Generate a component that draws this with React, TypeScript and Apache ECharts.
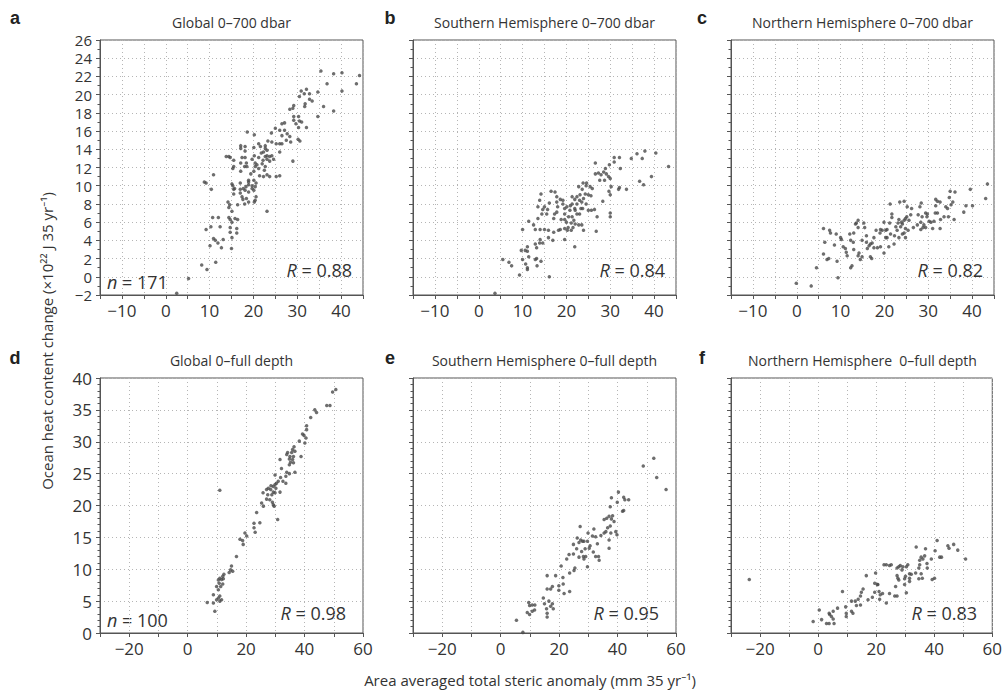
import React, { useEffect, useRef } from "react";
import * as echarts from "echarts";

// ---------- data (x: steric anomaly mm 35 yr^-1, y: OHC change 10^22 J 35 yr^-1) ----------
const globalUpper: number[][] = [
  [35.4,22.6],[38.3,22.3],[40.2,22.4],[44.2,22.1],[36.8,21.2],[43.5,21.2],[40.2,20.4],[30.9,20.4],[32.1,20.6],[31.6,20.1],
  [34.7,20.3],[30.5,19.8],[32.8,20.1],[32.8,19.5],[33.4,19.3],[31.8,19.0],[31.7,18.7],[36.0,18.7],[38.3,18.2],[29.2,18.8],
  [29.0,18.5],[28.3,18.4],[34.7,17.6],[29.2,17.6],[30.3,17.6],[29.2,17.2],[30.5,17.1],[31.0,17.0],[29.7,16.8],[27.1,16.9],
  [26.5,16.8],[32.1,16.4],[30.3,16.4],[25.0,16.3],[26.0,16.1],[27.1,16.1],[24.1,15.8],[27.7,15.7],[26.5,15.5],[28.3,15.4],
  [27.5,15.0],[28.5,14.8],[30.2,15.1],[30.6,14.9],[25.2,14.6],[26.0,14.6],[26.5,14.6],[24.2,14.8],[23.3,14.9],[22.7,14.4],
  [21.2,14.6],[21.6,14.3],[22.7,14.1],[23.1,13.9],[22.3,13.7],[21.8,13.6],[26.0,13.7],[23.1,13.3],[23.7,13.2],[24.2,13.3],
  [22.7,13.2],[21.2,13.1],[20.2,13.3],[19.7,12.9],[22.2,12.8],[23.1,12.9],[22.0,12.4],[23.7,12.7],[24.6,12.9],[29.0,12.7],
  [20.8,12.3],[20.4,12.1],[18.5,12.1],[18.0,12.1],[21.2,11.9],[22.7,12.1],[22.5,11.7],[20.1,11.6],[19.4,11.3],[21.4,11.1],
  [22.3,11.0],[23.1,11.2],[23.7,11.0],[25.2,11.0],[26.0,11.1],[18.9,10.6],[20.1,10.6],[20.6,10.3],[18.9,10.4],[18.9,10.1],
  [19.7,10.0],[20.4,9.9],[18.3,9.9],[15.1,10.2],[15.3,10.0],[19.7,9.7],[20.1,9.5],[18.9,9.3],[17.7,9.7],[18.1,9.5],
  [17.0,9.6],[15.5,9.6],[17.0,9.2],[15.5,9.1],[20.6,8.8],[18.4,8.6],[17.6,8.5],[18.0,8.0],[20.4,8.4],[18.9,8.2],
  [20.2,8.2],[16.4,7.9],[17.4,8.8],[14.2,8.2],[14.6,7.9],[14.4,7.6],[15.1,7.2],[23.1,7.2],[15.8,6.4],[16.4,6.3],
  [14.4,6.5],[14.7,6.3],[10.7,6.5],[12.0,6.5],[15.1,6.0],[14.7,5.4],[12.4,5.5],[10.3,5.5],[9.2,5.2],[16.2,5.3],
  [16.2,4.8],[14.7,4.9],[15.1,4.3],[10.9,4.2],[11.3,4.0],[13.1,4.1],[11.9,3.7],[12.7,3.2],[10.1,3.4],[15.0,3.1],
  [11.4,1.6],[8.2,1.3],[9.4,0.8],[5.2,-0.2],[2.5,-1.8],[8.8,10.4],[9.2,10.3],[10.4,9.6],[10.9,11.2],[13.8,13.2],
  [14.4,13.2],[14.7,13.1],[15.5,12.8],[15.5,12.1],[15.3,11.9],[17.1,14.4],[17.1,14.1],[18.1,14.3],[18.1,13.8],[18.6,15.9],
  [20.2,15.6],[17.4,13.1],[18.1,13.1],[17.1,11.6],[17.1,12.5],[18.4,12.5],[20.1,14.2],[15.7,9.7],[20.4,12.5],[17.0,10.3]
];

const southUpper: number[][] = [
  [40.4,13.6],[43.3,12.1],[37.9,13.8],[36.1,13.5],[37.3,13.0],[34.8,13.0],[32.1,13.1],[30.9,13.1],[30.9,12.6],[32.3,11.9],
  [29.8,12.3],[28.9,11.9],[26.6,12.5],[26.6,11.3],[27.3,11.4],[27.9,11.2],[28.5,11.5],[29.1,11.3],[29.6,11.0],[30.0,10.8],
  [27.6,10.6],[28.7,10.6],[39.4,11.0],[36.7,10.5],[37.6,10.1],[32.1,9.8],[31.9,9.6],[30.2,9.9],[33.7,9.6],[29.7,9.4],
  [30.0,9.0],[28.3,8.3],[25.4,9.9],[23.8,10.3],[24.5,10.0],[22.8,9.9],[23.6,9.6],[22.4,8.8],[24.3,9.1],[23.1,9.0],
  [23.9,8.6],[25.0,9.0],[25.6,8.9],[21.3,8.8],[21.9,8.5],[21.3,8.0],[22.4,8.0],[23.0,8.4],[23.5,8.2],[24.5,8.0],
  [23.7,7.5],[23.0,6.9],[22.4,6.9],[21.9,7.5],[20.8,7.3],[19.6,7.5],[19.6,6.9],[20.5,6.6],[21.3,6.6],[22.0,5.8],
  [22.8,5.7],[23.5,5.7],[23.9,5.1],[26.4,7.4],[27.0,6.6],[26.8,5.0],[30.0,7.0],[30.0,6.6],[19.2,8.4],[19.2,8.0],
  [18.6,8.5],[17.8,8.8],[17.4,9.3],[16.5,9.4],[18.0,7.7],[17.8,7.1],[17.1,6.4],[17.3,6.9],[20.0,6.0],[20.4,5.4],
  [19.6,5.3],[20.2,5.1],[18.6,5.2],[18.2,5.1],[17.1,4.9],[19.6,4.1],[16.1,8.1],[15.7,7.4],[15.0,7.7],[14.6,7.4],
  [15.5,6.9],[14.4,6.9],[13.9,8.4],[13.5,7.7],[14.2,9.1],[13.5,6.4],[12.5,5.7],[11.4,6.1],[12.9,5.2],[14.0,5.2],
  [15.0,5.2],[15.9,5.1],[10.0,5.2],[15.9,4.3],[16.9,4.0],[14.0,4.1],[14.6,3.7],[13.9,3.7],[12.9,3.6],[13.2,3.2],
  [11.1,3.3],[10.6,2.9],[9.7,2.9],[11.1,2.8],[11.4,2.2],[10.0,1.9],[10.7,1.4],[11.1,1.0],[11.1,0.8],[13.2,2.0],
  [12.9,1.9],[13.3,1.2],[14.2,1.7],[9.3,0.2],[5.5,1.9],[6.9,1.6],[7.5,1.2],[16.1,0.0],[21.9,3.3],[3.7,-1.8],
  [22.0,7.3],[20.9,7.8],[20.1,7.7],[25.7,7.3],[25.0,7.3],[23.3,7.5],[24.6,10.3],[25.9,9.7],[19.6,6.3],[21.7,6.2],
  [21.1,5.9],[17.8,8.2],[18.8,6.3],[21.1,5.1],[21.5,5.4]
];

const northUpper: number[][] = [
  [43.5,10.2],[43.1,8.6],[39.6,9.6],[40.1,7.8],[38.6,7.8],[38.1,7.1],[35.0,9.4],[36.1,9.3],[34.8,8.7],[35.6,8.2],
  [35.2,7.9],[34.0,7.7],[34.4,7.5],[31.7,8.5],[32.1,8.3],[32.7,8.2],[31.7,7.8],[31.6,7.0],[32.1,7.0],[28.4,8.1],
  [28.1,7.7],[29.4,7.0],[29.8,6.9],[27.7,6.8],[28.6,6.6],[29.7,6.6],[30.2,6.1],[33.6,6.6],[34.6,6.6],[35.9,6.3],
  [32.8,6.3],[31.3,6.1],[30.6,6.0],[28.3,6.0],[27.5,5.7],[29.0,5.7],[29.4,5.4],[31.0,5.3],[32.7,5.3],[26.6,5.4],
  [25.6,6.2],[26.0,6.8],[26.2,7.5],[25.1,6.6],[24.5,8.3],[23.5,8.2],[25.2,7.7],[24.8,6.4],[24.5,6.2],[23.9,6.0],
  [23.3,6.3],[24.1,5.8],[23.7,5.5],[24.8,5.3],[25.4,5.1],[23.1,5.9],[22.6,5.5],[22.9,5.1],[24.1,4.7],[24.5,4.8],
  [24.8,4.3],[23.3,4.3],[22.3,4.5],[21.4,4.7],[22.2,3.6],[21.2,5.9],[21.7,6.5],[21.7,6.9],[21.3,8.0],[19.9,6.0],
  [20.3,5.1],[20.6,5.2],[19.5,5.1],[19.1,5.2],[19.0,4.8],[20.3,4.3],[20.6,4.3],[21.0,3.3],[19.9,2.6],[19.1,3.3],
  [18.4,3.2],[17.6,3.2],[16.8,3.6],[15.9,3.8],[16.5,3.4],[17.2,3.7],[16.1,3.1],[16.8,2.2],[17.1,2.0],[15.9,4.5],
  [15.3,5.9],[15.5,5.4],[14.9,4.0],[14.0,6.2],[13.6,5.9],[14.0,5.4],[13.0,4.8],[13.4,5.8],[12.1,4.7],[12.3,4.0],
  [13.0,3.0],[12.9,3.8],[14.0,2.3],[14.5,1.9],[14.2,2.6],[14.9,2.2],[12.6,1.2],[12.3,1.0],[11.5,2.3],[11.1,3.1],
  [11.3,2.7],[10.6,3.3],[10.0,4.3],[10.2,4.1],[8.6,3.5],[9.0,4.7],[7.5,5.1],[7.7,4.8],[6.1,5.3],[6.4,3.8],
  [7.3,2.0],[6.9,1.9],[6.1,2.5],[9.2,1.7],[9.4,-0.1],[4.5,1.0],[-0.1,-0.7],[3.3,-1.0],[18.1,5.1],[17.6,4.3],
  [28.3,5.2],[28.8,5.4]
];

const globalFull: number[][] = [
  [50.7,38.2],[49.6,37.8],[48.7,35.7],[47.6,35.7],[44.1,34.6],[43.5,35.0],[42.1,33.8],[40.7,32.5],[40.7,31.9],[39.8,31.0],
  [40.5,30.6],[39.3,31.2],[40.1,29.8],[38.2,30.1],[36.4,29.2],[35.9,28.8],[35.6,28.3],[35.0,27.7],[36.2,27.7],[34.8,27.3],
  [35.9,27.2],[35.2,26.8],[36.2,26.7],[34.8,26.4],[36.7,25.2],[38.8,27.7],[31.6,27.2],[32.1,25.8],[33.9,25.2],[34.8,25.0],
  [33.6,24.6],[29.9,24.8],[31.8,24.4],[31.0,23.8],[30.4,23.5],[33.6,23.5],[29.9,23.3],[29.3,23.0],[28.5,23.1],[27.6,22.7],
  [27.0,22.5],[28.4,22.5],[30.2,22.7],[29.3,22.1],[27.4,21.7],[28.8,21.7],[29.9,22.0],[31.6,22.1],[27.0,21.0],[25.3,20.4],
  [25.9,19.9],[29.0,20.5],[29.3,20.1],[29.6,19.9],[23.6,18.9],[30.8,17.8],[22.7,17.2],[24.7,17.3],[22.7,16.5],[23.1,15.8],
  [19.6,15.7],[20.2,15.2],[17.9,14.7],[18.8,14.5],[19.0,13.9],[16.7,12.0],[15.0,10.5],[14.7,9.9],[15.4,9.7],[14.2,9.5],
  [12.4,9.2],[12.0,8.9],[11.0,8.6],[11.6,8.4],[10.5,8.3],[12.2,8.5],[10.8,7.8],[12.0,7.7],[9.9,7.3],[11.3,7.3],
  [10.5,6.8],[8.8,6.0],[11.0,5.8],[10.5,5.5],[11.6,5.2],[9.9,5.2],[6.7,4.8],[8.8,4.7],[11.0,5.0],[9.3,3.4],
  [11.0,22.4],[34.2,28.3],[33.9,28.0],[36.7,28.5],[32.6,23.8],[25.8,22.0],[28.1,20.9]
];

const southFull: number[][] = [
  [52.4,27.4],[48.8,26.2],[53.4,24.4],[56.6,22.5],[40.3,22.1],[37.9,21.2],[42.1,21.3],[42.5,20.9],[43.8,20.9],[39.9,20.5],
  [37.5,19.8],[41.7,19.1],[42.1,19.2],[35.4,17.8],[36.3,18.0],[37.1,18.3],[38.3,18.4],[37.9,17.9],[38.8,17.5],[37.5,16.8],
  [36.6,16.5],[36.0,15.9],[35.4,15.7],[37.7,15.7],[39.4,15.9],[39.8,15.4],[34.3,15.3],[37.1,14.6],[37.1,13.3],[33.1,14.0],
  [31.9,16.3],[31.4,15.2],[32.5,15.1],[29.9,15.7],[29.7,14.4],[30.6,13.7],[30.3,13.3],[27.2,16.7],[26.2,14.9],[27.4,14.6],
  [28.0,14.4],[26.8,14.2],[28.5,14.4],[24.9,13.9],[26.0,13.2],[24.9,12.4],[28.3,12.0],[29.1,12.0],[28.5,11.6],[23.4,12.3],
  [22.6,11.6],[32.5,12.0],[33.5,12.0],[33.7,11.4],[29.7,10.4],[20.7,10.5],[25.4,10.2],[25.1,9.8],[23.6,9.4],[21.3,8.7],
  [18.8,9.0],[15.9,9.0],[19.9,7.4],[21.4,7.7],[17.7,7.3],[15.9,6.9],[17.1,6.9],[19.9,6.7],[21.7,6.2],[23.6,6.5],
  [14.6,5.5],[15.0,4.6],[16.5,5.0],[17.7,4.6],[17.1,4.2],[18.0,3.8],[15.7,3.8],[15.9,3.1],[15.9,2.5],[9.6,4.8],
  [9.9,4.3],[10.8,4.4],[11.7,4.4],[9.1,3.2],[9.9,2.9],[10.8,3.4],[11.6,3.6],[5.4,2.0],[7.6,0.1],[31.7,12.7],
  [28.9,13.2],[27.7,12.8],[26.8,11.9]
];

const northFull: number[][] = [
  [-23.7,8.4],[41.0,14.5],[44.7,13.7],[45.1,13.3],[46.7,13.9],[48.1,13.0],[50.8,11.6],[40.3,12.9],[37.0,13.2],[33.8,13.5],
  [35.5,11.9],[36.1,11.6],[35.0,11.4],[36.7,12.1],[39.0,11.6],[41.9,11.9],[42.5,11.9],[37.5,10.9],[37.6,10.2],[34.7,10.2],
  [35.5,9.3],[34.7,8.5],[35.9,8.6],[33.6,9.4],[32.1,9.2],[31.5,8.6],[30.1,8.9],[29.8,8.5],[29.8,7.6],[30.4,6.3],
  [31.5,8.1],[30.9,10.7],[30.4,10.4],[28.3,10.6],[27.8,10.4],[28.9,9.9],[27.2,10.2],[27.2,9.0],[27.5,8.6],[27.8,8.3],
  [26.7,7.3],[27.2,5.8],[26.4,5.8],[24.6,6.2],[39.3,8.4],[40.1,8.6],[22.7,10.7],[23.5,10.7],[24.6,10.6],[19.5,7.8],
  [20.4,7.6],[16.6,9.0],[19.5,6.4],[21.0,6.5],[21.4,6.0],[22.2,6.2],[21.2,5.3],[23.5,4.7],[18.7,5.6],[17.2,5.2],
  [15.5,6.9],[14.9,6.4],[14.6,5.8],[13.8,5.3],[14.6,4.4],[13.2,4.3],[12.8,5.0],[11.5,5.0],[8.4,6.5],[11.5,3.4],
  [12.0,3.1],[9.7,3.1],[9.7,2.6],[9.5,4.1],[6.7,3.9],[5.2,3.4],[3.8,3.1],[4.0,2.9],[4.6,2.6],[5.2,2.2],
  [2.9,1.5],[3.8,1.5],[5.5,1.5],[0.4,3.6],[1.2,2.1],[-1.7,1.8],[19.8,9.4],[20.6,7.6],[25.2,10.7],[29.2,10.4],
  [31.5,9.3],[35.0,10.7]
];

const panelTitles = [
  "Global 0–700 dbar", "Southern Hemisphere 0–700 dbar", "Northern Hemisphere 0–700 dbar",
  "Global 0–full depth", "Southern Hemisphere 0–full depth", "Northern Hemisphere  0–full depth"
];
const panelLetters = ["a", "b", "c", "d", "e", "f"];
const rValues = ["0.88", "0.84", "0.82", "0.98", "0.95", "0.83"];
const nValues = ["171", "", "", "100", "", ""];
const panelData = [globalUpper, southUpper, northUpper, globalFull, southFull, northFull];

const yTitle = "Ocean heat content change (×10²² J 35 yr⁻¹)";
const xTitle = "Area averaged total steric anomaly (mm 35 yr⁻¹)";

// ---------- layout ----------
const FONT = '"Open Sans", "Noto Sans", sans-serif';
const LEFTS = [100, 413, 731];
const TOPS = [40, 378];
const W = 263;
const H = 255;
const LETTER_X = [15, 390, 702];

const fmtNum = (v: number) => (v < 0 ? "−" + Math.abs(v) : String(v));
const every = (step: number) => (v: number) => {
  const r = Math.round(v);
  return Math.abs(v - r) < 1e-6 && r % step === 0 ? fmtNum(r) : "";
};

export default function App() {
  const ref = useRef<HTMLDivElement>(null);
  useEffect(() => {
    document.body.style.margin = "0";
    const chart = echarts.init(ref.current!, null, { renderer: "svg" });
    const grids: any[] = [];
    const xAxes: any[] = [];
    const yAxes: any[] = [];
    const series: any[] = [];
    const graphics: any[] = [];
    const axisColor = "#555";
    const splitLine = { show: true, lineStyle: { color: "#b5b5b5", type: [1, 3], width: 1 } };

    for (let i = 0; i < 6; i++) {
      const row = i < 3 ? 0 : 1;
      const col = i % 3;
      const left = LEFTS[col];
      const top = TOPS[row];
      grids.push({ left, top, width: W, height: H, show: true, borderColor: axisColor, borderWidth: 1, backgroundColor: "transparent" });
      xAxes.push({
        type: "value", gridIndex: i,
        min: row === 0 ? -15 : -30, max: row === 0 ? 45 : 60, interval: row === 0 ? 5 : 10,
        axisLine: { show: true, onZero: false, lineStyle: { color: axisColor, width: 1 } },
        axisTick: { show: true, inside: false, length: 4, lineStyle: { color: axisColor } },
        axisLabel: { show: true, formatter: every(row === 0 ? 10 : 20), fontSize: 17, lineHeight: 17, color: "#333", fontFamily: FONT, margin: 7 },
        splitLine,
      });
      yAxes.push({
        type: "value", gridIndex: i,
        min: row === 0 ? -2 : 0, max: row === 0 ? 26 : 40, interval: row === 0 ? 2 : 5,
        axisLine: { show: true, onZero: false, lineStyle: { color: axisColor, width: 1 } },
        axisTick: { show: true, inside: false, length: 4, lineStyle: { color: axisColor } },
        minorTick: { show: true, splitNumber: row === 0 ? 2 : 5, length: 2.5, lineStyle: { color: axisColor } },
        axisLabel: {
          show: col === 0, formatter: (v: number) => fmtNum(v),
          fontSize: row === 0 ? 15 : 17, lineHeight: row === 0 ? 15 : 17,
          color: "#333", fontFamily: FONT, margin: 8,
        },
        splitLine,
      });
      series.push({
        type: "scatter", xAxisIndex: i, yAxisIndex: i, data: panelData[i],
        symbol: "circle", symbolSize: 3.5, itemStyle: { color: "#4a4a4a" }, silent: true,
      });

      graphics.push({
        type: "text", x: left + W / 2, y: row === 0 ? 22 : 360,
        style: { text: panelTitles[i], fontSize: 14, fontFamily: FONT, fill: "#333", align: "center", verticalAlign: "middle" },
      });
      graphics.push({
        type: "text", x: LETTER_X[col], y: row === 0 ? 18 : 358,
        style: { text: panelLetters[i], fontSize: 18, fontWeight: "bold", fontFamily: '"Liberation Sans", Arial, sans-serif', fill: "#222", align: "center", verticalAlign: "middle" },
      });
      graphics.push({
        type: "text", x: left + W - (row === 0 ? 11 : 17), y: top + H - (row === 0 ? 25 : 20),
        style: {
          text: "{i|R} = " + rValues[i], fontSize: 18, fontFamily: FONT, fill: "#333", align: "right", verticalAlign: "middle",
          rich: { i: { fontStyle: "italic", fontSize: 18, fontFamily: FONT, fill: "#333" } },
        },
      });
      if (nValues[i]) {
        graphics.push({
          type: "text", x: left + 7, y: top + H - 13,
          style: {
            text: "{i|n} = " + nValues[i], fontSize: 18, fontFamily: FONT, fill: "#333", align: "left", verticalAlign: "middle",
            rich: { i: { fontStyle: "italic", fontSize: 18, fontFamily: FONT, fill: "#333" } },
          },
        });
      }
    }
    graphics.push({
      type: "text", x: 47, y: 341, rotation: Math.PI / 2,
      style: { text: yTitle, fontSize: 15, fontFamily: FONT, fill: "#333", align: "center", verticalAlign: "middle" },
    });
    graphics.push({
      type: "text", x: 530, y: 680,
      style: { text: xTitle, fontSize: 15, fontFamily: FONT, fill: "#333", align: "center", verticalAlign: "middle" },
    });

    chart.setOption({
      animation: false,
      backgroundColor: "#fff",
      grid: grids,
      xAxis: xAxes,
      yAxis: yAxes,
      series,
      graphic: graphics,
    });
    return () => chart.dispose();
  }, []);
  return <div ref={ref} style={{ position: "fixed", left: 0, top: 0, width: 1005, height: 690 }} />;
}
